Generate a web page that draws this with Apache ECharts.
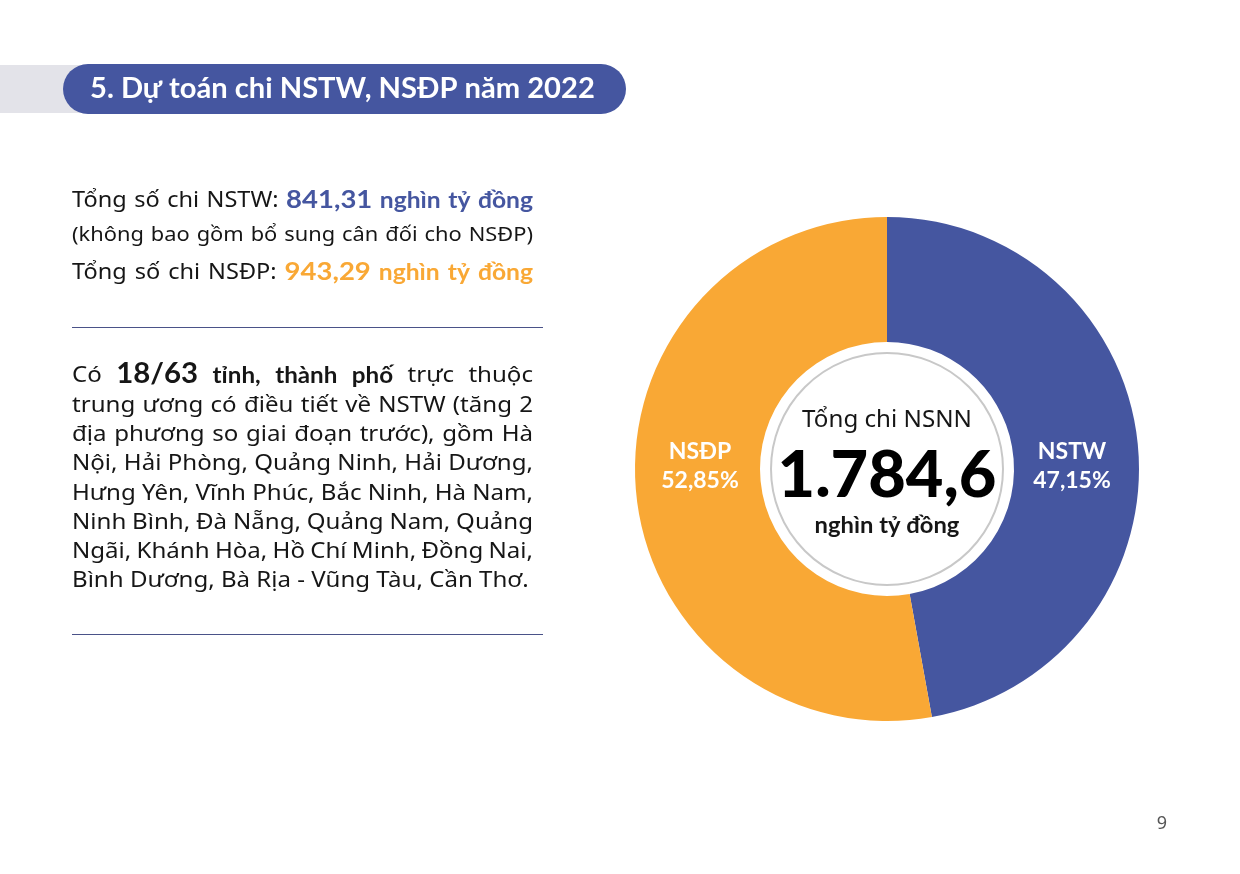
<!DOCTYPE html>
<html><head><meta charset="utf-8">
<script src="https://cdn.jsdelivr.net/npm/echarts@6/dist/echarts.min.js"></script>
<style>html,body{margin:0;padding:0;background:#fff}#c{width:1240px;height:874px}</style>
</head><body><div id="c"></div>
<script>
// ---- data ----
const categories = ['NSTW', 'NSĐP'];
const shares = [47.15, 52.85];            // % of total
const amounts = ['841,31', '943,29'];     // nghìn tỷ đồng
const totalLabel = '1.784,6';
const titleText = '5. Dự toán chi NSTW, NSĐP năm 2022';
const paragraphLines = [
  [['Có ', 'r'], ['18/63', 'big'], [' tỉnh, thành phố', 'b'], [' trực thuộc', 'r']],
  [['trung ương có điều tiết về NSTW (tăng 2', 'r']],
  [['địa phương so giai đoạn trước), gồm Hà', 'r']],
  [['Nội, Hải Phòng, Quảng Ninh, Hải Dương,', 'r']],
  [['Hưng Yên, Vĩnh Phúc, Bắc Ninh, Hà Nam,', 'r']],
  [['Ninh Bình, Đà Nẵng, Quảng Nam, Quảng', 'r']],
  [['Ngãi, Khánh Hòa, Hồ Chí Minh, Đồng Nai,', 'r']],
  [['Bình Dương, Bà Rịa - Vũng Tàu, Cần Thơ.', 'r']]
];

// ---- styles ----
const FF = '"Noto Sans", "Open Sans", sans-serif';
const FB = 'Lato, "Noto Sans", sans-serif';
const BLUE = '#4556A0';
const ORANGE = '#F9A835';
const INK = '#161616';
const colors = [BLUE, ORANGE];
const SX = 1.12;   // horizontal stretch to imitate the wide geometric typeface

const ctx = document.createElement('canvas').getContext('2d');
function measure(t, st) {
  ctx.font = (st.fontWeight || 'normal') + ' ' + st.fontSize + 'px ' + (st.fontFamily || FF);
  return ctx.measureText(t).width;
}
// lay out one line of words, justified between x0 and x0+w
function lineEls(segs, x0, w, baseline, justify) {
  const words = [];
  segs.forEach(s => s.text.split(' ').forEach(t => { if (t) words.push({ t, st: s.st }); }));
  const widths = words.map(o => measure(o.t, o.st) * (o.st.sx || SX));
  const sum = widths.reduce((a, b) => a + b, 0);
  let gap = justify && words.length > 1 ? (w - sum) / (words.length - 1) : measure(' ', segs[0].st) * SX;
  gap = Math.max(gap, 3);
  let x = x0;
  return words.map((o, i) => {
    const el = {
      type: 'text', x: x, y: baseline - 0.34 * o.st.fontSize, scaleX: o.st.sx || SX,
      style: { text: o.t, fontSize: o.st.fontSize, fontWeight: o.st.fontWeight || 'normal',
        fontFamily: o.st.fontFamily || FF, fill: o.st.fill || INK, align: 'left', verticalAlign: 'middle' }
    };
    x += widths[i] + gap;
    return el;
  });
}
function fitSize(t, weight, family, target, base) {
  return base * target / measure(t, { fontSize: base, fontWeight: weight, fontFamily: family });
}

const X0 = 72, W = 461;
const graphics = [];
// title band
graphics.push({ type: 'rect', shape: { x: 0, y: 65, width: 120, height: 48 }, style: { fill: '#E3E3E9' } });
graphics.push({ type: 'rect', shape: { x: 63, y: 64, width: 563, height: 50, r: 25 }, style: { fill: BLUE } });
const tSize = fitSize(titleText, 'bold', FB, 505, 26);
graphics.push({ type: 'text', x: 90, y: 89, style: { text: titleText, fontSize: tSize, fontWeight: 'bold',
  fontFamily: FB, fill: '#fff', align: 'left', verticalAlign: 'middle' } });

// top text block
const R22 = { fontSize: 21 }, R19 = { fontSize: 19.5 };
graphics.push(...lineEls([
  { text: 'Tổng số chi NSTW: ', st: R22 },
  { text: amounts[0], st: { fontSize: 25, fontWeight: 'bold', fill: BLUE, fontFamily: FB, sx: 1.1 } },
  { text: ' nghìn tỷ đồng', st: { fontSize: 22, fontWeight: 'bold', fill: BLUE, fontFamily: FB, sx: 1.12 } }
], X0, W, 208, true));
graphics.push(...lineEls([{ text: '(không bao gồm bổ sung cân đối cho NSĐP)', st: R19 }], X0, W, 242, true));
graphics.push(...lineEls([
  { text: 'Tổng số chi NSĐP: ', st: R22 },
  { text: amounts[1], st: { fontSize: 25, fontWeight: 'bold', fill: ORANGE, fontFamily: FB, sx: 1.1 } },
  { text: ' nghìn tỷ đồng', st: { fontSize: 22, fontWeight: 'bold', fill: ORANGE, fontFamily: FB, sx: 1.12 } }
], X0, W, 280, true));

graphics.push({ type: 'line', shape: { x1: 72, y1: 327.5, x2: 543, y2: 327.5 }, style: { stroke: '#4A5288', lineWidth: 1 } });
graphics.push({ type: 'line', shape: { x1: 72, y1: 634.5, x2: 543, y2: 634.5 }, style: { stroke: '#4A5288', lineWidth: 1 } });

// paragraph
const pStyles = { r: { fontSize: 21.5 }, b: { fontSize: 22, fontWeight: 'bold', fontFamily: FB, sx: 1.1 },
  big: { fontSize: 28, fontWeight: 'bold', fontFamily: FB, sx: 1.05 } };
paragraphLines.forEach((line, i) => {
  graphics.push(...lineEls(line.map(s => ({ text: s[0], st: pStyles[s[1]] })), X0, W, 383.5 + i * 29.3,
    i < paragraphLines.length - 1));
});

// centre
const CX = 887, CY = 469;
graphics.push({ type: 'circle', z: 10, shape: { cx: CX, cy: CY, r: 116 }, style: { fill: 'none', stroke: '#C8C8C8', lineWidth: 2 } });
graphics.push({ type: 'text', z: 10, x: CX, y: 420, scaleX: 1.05, style: { text: 'Tổng chi NSNN', fontSize: 23, fontFamily: FF,
  fill: INK, align: 'center', verticalAlign: 'middle' } });
const bigSize = fitSize(totalLabel, '900', FB, 219, 68);
graphics.push({ type: 'text', z: 10, x: CX, y: 476, style: { text: totalLabel, fontSize: bigSize, fontWeight: 900, fontFamily: FB,
  fill: '#000', align: 'center', verticalAlign: 'middle' } });
graphics.push({ type: 'text', z: 10, x: CX, y: 526, scaleX: 1.08, style: { text: 'nghìn tỷ đồng', fontSize: 22, fontWeight: 'bold', fontFamily: FB,
  fill: INK, align: 'center', verticalAlign: 'middle' } });
// page number
graphics.push({ type: 'text', x: 1162, y: 824, style: { text: '9', fontSize: 18, fontFamily: FF, fill: '#555',
  align: 'center', verticalAlign: 'middle' } });

const chart = echarts.init(document.getElementById('c'), null, { renderer: 'canvas' });
chart.setOption({
  animation: false,
  backgroundColor: '#fff',
  graphic: graphics,
  series: [{
    type: 'pie',
    center: [CX, CY],
    radius: [127, 252],
    startAngle: 90,
    clockwise: true,
    silent: true,
    data: categories.map((c, i) => ({ name: c, value: shares[i], itemStyle: { color: colors[i] } })),
    label: {
      show: true, position: 'inside', color: '#fff', fontFamily: FB, fontWeight: 'bold', fontSize: 23,
      lineHeight: 29, align: 'center',
      formatter: p => p.name + '\n' + p.value.toFixed(2).replace('.', ',') + '%'
    },
    labelLine: { show: false },
    labelLayout: p => ({ dx: (p.dataIndex === 0 ? 1072 : 700) - (p.labelRect.x + p.labelRect.width / 2),
      dy: CY - 3 - (p.labelRect.y + p.labelRect.height / 2) })
  }]
});
</script></body></html>
